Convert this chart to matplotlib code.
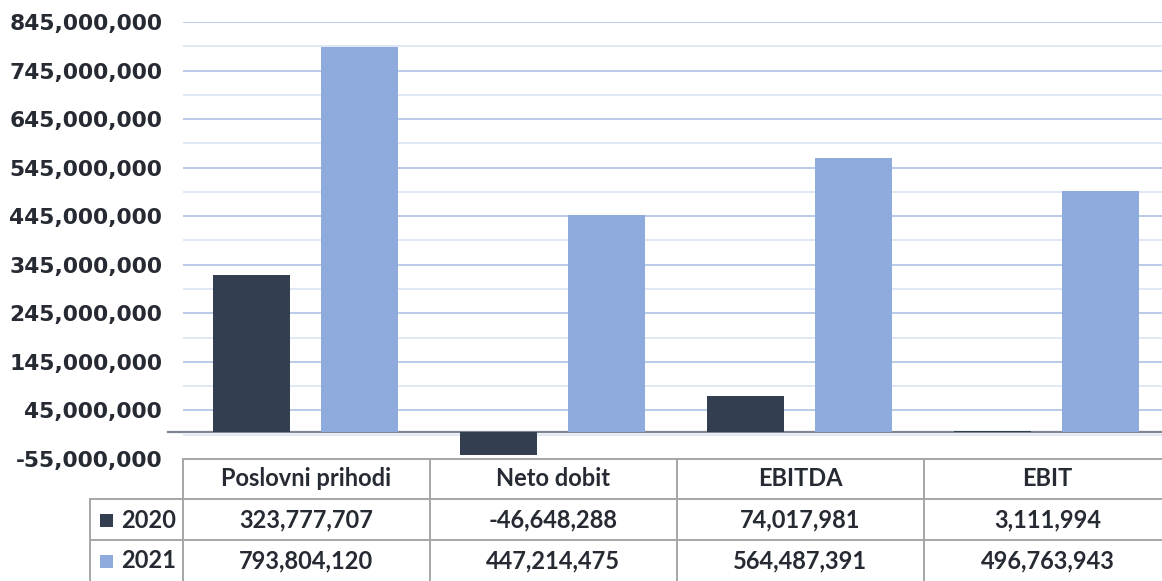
import matplotlib
matplotlib.use('Agg')
from matplotlib import pyplot as plt
from matplotlib.lines import Line2D
from matplotlib.patches import Rectangle
import numpy as np

categories = ['Poslovni prihodi', 'Neto dobit', 'EBITDA', 'EBIT']
years = ['2020', '2021']
values_2020 = [323777707, -46648288, 74017981, 3111994]
values_2021 = [793804120, 447214475, 564487391, 496763943]
colors = ['#333F50', '#8FAADC']

W, H = 1162, 581
fig = plt.figure(figsize=(W / 100, H / 100), dpi=100)


def fx(px):
    return px / W


def fy(py):
    return 1 - py / H


# plot area (pixel positions, right side is cut off)
col_w = 247
left, top, bottom = 183, 22, 459
right = left + col_w * len(categories)
ax = fig.add_axes([fx(left), fy(bottom), fx(right - left), fy(top) - fy(bottom)])

ymin, ymax = -55e6, 845e6
ax.set_xlim(0, len(categories))
ax.set_ylim(ymin, ymax)

major = np.arange(ymin, ymax + 1, 100e6)
minor = np.arange(ymin + 50e6, ymax, 100e6)
ax.set_yticks(major)
ax.set_yticks(minor, minor=True)
ax.set_yticklabels([f'{v:,.0f}' for v in major], fontsize=15.7, fontweight='bold',
                   color='#262b33', family='DejaVu Sans')
ax.tick_params(axis='y', which='both', length=0, pad=15)
ax.tick_params(axis='x', which='both', length=0, labelbottom=False)
ax.set_xticks([])
ax.grid(axis='y', which='major', color='#B4C7E7', linewidth=1.3)
ax.grid(axis='y', which='minor', color='#DDE6F4', linewidth=1.3)
ax.set_axisbelow(True)
for s in ax.spines.values():
    s.set_visible(False)

x = np.arange(len(categories)) + 0.5
bw = 0.312
ax.bar(x - 0.222, values_2020, bw, color=colors[0], zorder=3)
ax.bar(x + 0.216, values_2021, bw, color=colors[1], zorder=3)

# zero line, stretched a bit past the plot's left edge
ax.add_line(Line2D([-15 / col_w, len(categories)], [0, 0], color='#7F8691',
                   linewidth=1.6, zorder=2.5, clip_on=False))

# data table under the chart
line_c = '#A6A6A6'
row_y = [459, 499, 540, 581]
table_left = 90

fig.add_artist(Line2D([fx(left), fx(right)], [fy(row_y[0])] * 2, color=line_c, lw=1.4))
for yy in row_y[1:3]:
    fig.add_artist(Line2D([fx(table_left), fx(right)], [fy(yy)] * 2, color=line_c, lw=1.4))
fig.add_artist(Line2D([fx(table_left)] * 2, [fy(row_y[1]), fy(row_y[3])], color=line_c, lw=1.4))
for i in range(len(categories)):
    xx = left + i * col_w
    fig.add_artist(Line2D([fx(xx)] * 2, [fy(row_y[0]), fy(row_y[3])], color=line_c, lw=1.4))

tfont = dict(family='Lato', fontsize=17, fontweight='bold', color='#262b33',
             ha='center', va='center')
for i, cat in enumerate(categories):
    cx = left + (i + 0.5) * col_w
    fig.text(fx(cx), fy(479), cat, **tfont)
    fig.text(fx(cx), fy(520), f'{values_2020[i]:,}', **tfont)
    fig.text(fx(cx), fy(561), f'{values_2021[i]:,}', **tfont)

for j, (yr, c) in enumerate(zip(years, colors)):
    cy = 520 + j * 41
    fig.add_artist(Rectangle((fx(100), fy(cy + 7)), fx(13), fy(cy - 6) - fy(cy + 7),
                             facecolor=c, edgecolor='none'))
    fig.text(fx(121), fy(cy), yr, family='Lato', fontsize=17, fontweight='bold',
             color='#262b33', ha='left', va='center')

fig.savefig('out.png', dpi=100)
